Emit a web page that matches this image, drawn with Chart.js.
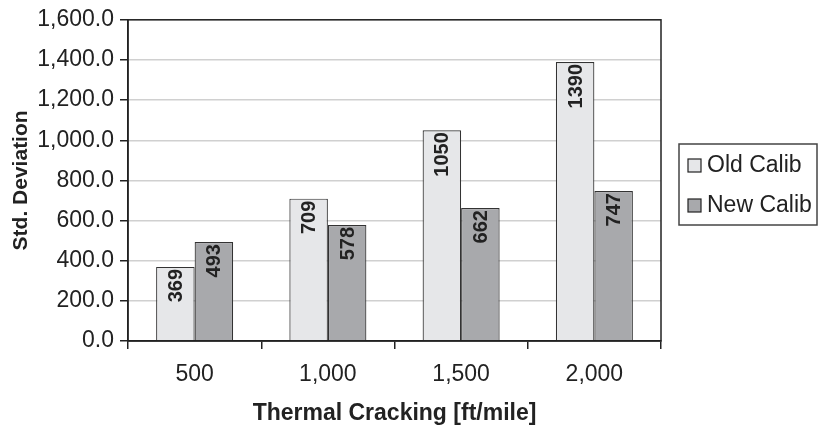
<!DOCTYPE html>
<html>
<head>
<meta charset="utf-8">
<script src="https://cdn.jsdelivr.net/npm/chart.js@4/dist/chart.umd.min.js"></script>
<style>
	html, body { margin: 0; padding: 0; background: #fff; }
	#wrap { position: relative; width: 820px; height: 429px; }
</style>
</head>
<body>
<div id="wrap"><canvas id="chart" width="820" height="429"></canvas></div>
<script>
const categories = ['500', '1,000', '1,500', '2,000'];
const oldCalib = [369, 709, 1050, 1390];
const newCalib = [493, 578, 662, 747];
const seriesNames = ['Old Calib', 'New Calib'];

const FONT = '"Liberation Sans", Arial, sans-serif';
const ink = '#222';

// frame around the plot area (top + right edges too)
const frame = {
	id: 'frame',
	afterDatasetsDraw: chart => {
		const { ctx, chartArea: a } = chart;
		ctx.save();
		ctx.strokeStyle = ink;
		ctx.lineWidth = 1.5;
		ctx.strokeRect(a.left, a.top, a.right - a.left, a.bottom - a.top);
		ctx.restore();
	}
};

// rotated value labels inside top of each bar
const barLabels = {
	id: 'barLabels',
	afterDatasetsDraw: chart => {
		const { ctx } = chart;
		ctx.save();
		ctx.font = `bold 20px ${FONT}`;
		ctx.fillStyle = ink;
		ctx.textAlign = 'right';
		ctx.textBaseline = 'middle';
		chart.data.datasets.forEach((ds, i) => {
			chart.getDatasetMeta(i).data.forEach((bar, j) => {
				ctx.save();
				ctx.translate(bar.x + 1, bar.y + 2);
				ctx.rotate(-Math.PI / 2);
				ctx.fillText(String(ds.data[j]), 0, 0);
				ctx.restore();
			});
		});
		ctx.restore();
	}
};

// boxed legend on the right
const boxLegend = {
	id: 'boxLegend',
	afterDraw: chart => {
		const { ctx } = chart;
		const x = 679, y = 144, w = 138, h = 81;
		ctx.save();
		ctx.strokeStyle = '#444';
		ctx.lineWidth = 1.5;
		ctx.strokeRect(x, y, w, h);
		ctx.font = `23px ${FONT}`;
		ctx.textBaseline = 'middle';
		chart.data.datasets.forEach((ds, i) => {
			const cy = y + 21 + i * 40;
			ctx.fillStyle = ds.backgroundColor;
			ctx.fillRect(688, cy - 6, 13, 13);
			ctx.strokeStyle = ink;
			ctx.lineWidth = 1.2;
			ctx.strokeRect(688, cy - 6, 13, 13);
			ctx.fillStyle = ink;
			ctx.fillText(ds.label, 707, cy + 1);
		});
		ctx.restore();
	}
};

const config = {
	type: 'bar',
	data: {
		labels: categories,
		datasets: [
			{ label: seriesNames[0], data: oldCalib, backgroundColor: '#e6e7e9', borderColor: '#333', borderWidth: 1.2 },
			{ label: seriesNames[1], data: newCalib, backgroundColor: '#a8a9ac', borderColor: '#333', borderWidth: 1.2 },
		],
	},
	options: {
		responsive: false,
		animation: false,
		devicePixelRatio: 1,
		layout: { padding: { top: 16, right: 159, bottom: 0, left: 0 } },
		datasets: { bar: { categoryPercentage: 0.578, barPercentage: 1 } },
		plugins: { legend: { display: false }, tooltip: { enabled: false } },
		scales: {
			x: {
				afterFit: s => { s.height = 88; },
				grid: { drawOnChartArea: false, offset: true, tickLength: 8, tickColor: ink, lineWidth: 1.5 },
				border: { color: ink, width: 1.5 },
				ticks: { color: ink, font: { family: FONT, size: 23 }, padding: 12 },
				title: {
					display: true, text: 'Thermal Cracking [ft/mile]', color: ink,
					font: { family: FONT, size: 23, weight: 'bold' }, padding: { top: 0, bottom: 2 },
				},
			},
			y: {
				min: 0, max: 1600,
				afterFit: s => { s.width = 128; },
				grid: { color: '#d0d0d0', lineWidth: 1.5, tickLength: 8, tickColor: ink },
				border: { color: ink, width: 1.5 },
				ticks: {
					stepSize: 200, color: ink, padding: 6,
					font: { family: FONT, size: 23 },
					callback: v => v.toLocaleString('en-US', { minimumFractionDigits: 1, maximumFractionDigits: 1 }),
				},
				title: {
					display: true, text: 'Std. Deviation', color: ink,
					font: { family: FONT, size: 21, weight: 'bold' }, padding: { top: 9, bottom: 0 },
				},
			},
		},
	},
	plugins: [frame, barLabels, boxLegend],
};

new Chart(document.getElementById('chart').getContext('2d'), config);
</script>
</body>
</html>
